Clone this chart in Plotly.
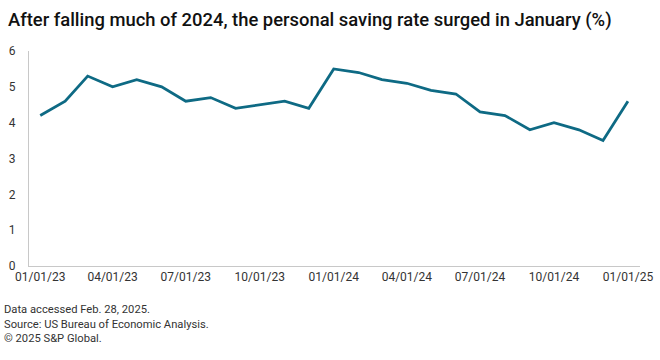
import plotly.graph_objects as go

months = ["2023-01-01", "2023-02-01", "2023-03-01", "2023-04-01", "2023-05-01", "2023-06-01",
          "2023-07-01", "2023-08-01", "2023-09-01", "2023-10-01", "2023-11-01", "2023-12-01",
          "2024-01-01", "2024-02-01", "2024-03-01", "2024-04-01", "2024-05-01", "2024-06-01",
          "2024-07-01", "2024-08-01", "2024-09-01", "2024-10-01", "2024-11-01", "2024-12-01",
          "2025-01-01"]
saving_rate = [4.2, 4.6, 5.3, 5.0, 5.2, 5.0, 4.6, 4.7, 4.4, 4.5, 4.6, 4.4,
               5.5, 5.4, 5.2, 5.1, 4.9, 4.8, 4.3, 4.2, 3.8, 4.0, 3.8, 3.5, 4.6]
tick_dates = ["2023-01-01", "2023-04-01", "2023-07-01", "2023-10-01", "2024-01-01",
              "2024-04-01", "2024-07-01", "2024-10-01", "2025-01-01"]
tick_labels = ["01/01/23", "04/01/23", "07/01/23", "10/01/23", "01/01/24",
               "04/01/24", "07/01/24", "10/01/24", "01/01/25"]
y_ticks = [0, 1, 2, 3, 4, 5, 6]

title = "After falling much of 2024, the personal saving rate surged in January (%)"
footnote = ("Data accessed Feb. 28, 2025.<br>Source: US Bureau of Economic Analysis.<br>"
            "© 2025 S&P Global.")

fig = go.Figure()
fig.add_trace(go.Scatter(x=months, y=saving_rate, mode="lines",
                         line=dict(color="#0e6a84", width=2.8), showlegend=False))

font_family = "Roboto, Arial, sans-serif"
fig.update_layout(
    width=660, height=360,
    margin=dict(l=29, r=20, t=51, b=94, autoexpand=False),
    paper_bgcolor="white", plot_bgcolor="white",
    font=dict(family=font_family, color="#222222", size=12),
    title=dict(text=title, x=8 / 660, xref="container", xanchor="left",
               y=0.945, yref="container", yanchor="middle",
               font=dict(family=font_family, size=18.4, color="#111111", weight=500)),
    xaxis=dict(type="date", range=["2022-12-18", "2025-01-16"],
               tickvals=tick_dates, ticktext=tick_labels, automargin=False,
               showgrid=False, showline=True, linecolor="#c8c8c8", linewidth=1,
               ticks="", tickfont=dict(size=12, color="#333333"), zeroline=False),
    yaxis=dict(range=[0, 6], tickvals=y_ticks, showgrid=False, showline=True,
               automargin=False,
               linecolor="#c8c8c8", linewidth=1, ticks="", ticklabelstandoff=10,
               tickfont=dict(size=12, color="#333333"), zeroline=False),
)
fig.add_annotation(text=footnote, xref="paper", yref="paper", x=-0.044, y=-0.165,
                   xanchor="left", yanchor="top", showarrow=False, align="left",
                   font=dict(size=11.2, color="#333333", family=font_family))

fig.write_html("out.html", config={"displayModeBar": False},
               post_script="document.body.style.margin='0';")
